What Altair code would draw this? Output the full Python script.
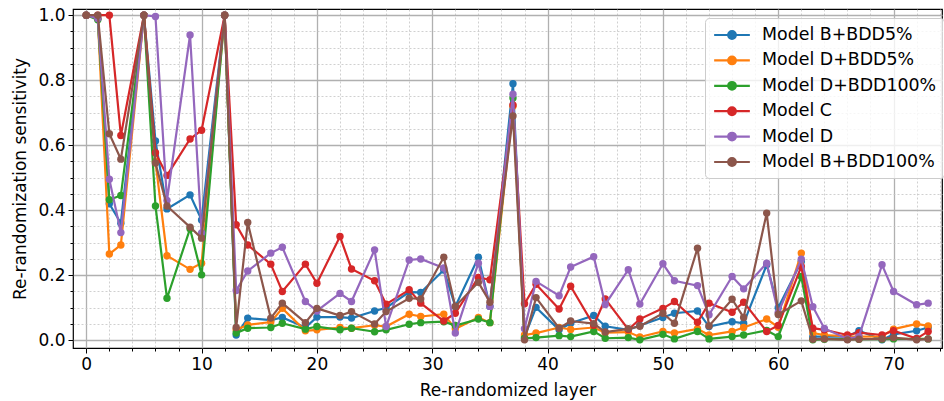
import altair as alt
import pandas as pd

layers = [0, 1, 2, 3, 5, 6, 7, 9, 10, 12,
          13, 14, 16, 17, 19, 20, 22, 23, 25, 26, 28, 29, 31, 32, 34, 35,
          37,
          38, 39, 41, 42, 44, 45, 47, 48, 50, 51, 53, 54, 56, 57, 59, 60,
          62,
          63, 64, 66, 67, 69, 70, 72, 73]

series_names = ["Model B+BDD5%", "Model D+BDD5%", "Model D+BDD100%",
                "Model C", "Model D", "Model B+BDD100%"]
colors = ["#1f77b4", "#ff7f0e", "#2ca02c", "#d62728", "#9467bd", "#8c564b"]

model_b_bdd5 = [1.0, 0.99, 0.42, 0.36, 1.0, 0.613, 0.404, 0.447, 0.37, 1.0,
                0.016, 0.068, 0.062, 0.07, 0.039, 0.071, 0.071, 0.068, 0.09, 0.10, 0.148, 0.147, 0.216, 0.104, 0.255, 0.104,
                0.789,
                0.01, 0.101, 0.032, 0.052, 0.076, 0.043, 0.032, 0.045, 0.07, 0.083, 0.09, 0.042, 0.057, 0.052, 0.232, 0.1,
                0.242,
                0.011, 0.011, 0.011, 0.029, 0.001, 0.018, 0.029, 0.039]

model_d_bdd5 = [1.0, 0.99, 0.265, 0.293, 1.0, 0.55, 0.26, 0.218, 0.237, 1.0,
                0.032, 0.047, 0.056, 0.098, 0.029, 0.032, 0.039, 0.037, 0.046, 0.042, 0.08, 0.073, 0.08, 0.035, 0.07, 0.054,
                0.72,
                0.016, 0.022, 0.039, 0.033, 0.039, 0.023, 0.025, 0.01, 0.027, 0.022, 0.035, 0.016, 0.027, 0.039, 0.065, 0.04,
                0.268,
                0.022, 0.016, 0.012, 0.011, 0.012, 0.034, 0.05, 0.044]

model_d_bdd100 = [1.0, 0.986, 0.432, 0.445, 1.0, 0.413, 0.129, 0.343, 0.201, 1.0,
                  0.022, 0.037, 0.039, 0.052, 0.034, 0.042, 0.032, 0.037, 0.026, 0.032, 0.049, 0.054, 0.057, 0.045, 0.065, 0.054,
                  0.745,
                  0.006, 0.008, 0.014, 0.011, 0.027, 0.006, 0.008, 0.001, 0.018, 0.004, 0.027, 0.004, 0.011, 0.016, 0.03, 0.011,
                  0.196,
                  0.001, 0.003, 0.003, 0.003, 0.003, 0.004, 0.004, 0.004]

model_c = [1.0, 1.0, 1.0, 0.63, 1.0, 0.577, 0.507, 0.619, 0.646, 1.0,
           0.355, 0.293, 0.234, 0.15, 0.234, 0.175, 0.319, 0.219, 0.183, 0.111, 0.155, 0.114, 0.059, 0.083, 0.193, 0.186,
           0.724,
           0.112, 0.172, 0.096, 0.166, 0.046, 0.127, 0.033, 0.065, 0.098, 0.119, 0.055, 0.114, 0.086, 0.117, 0.027, 0.045,
           0.227,
           0.037, 0.032, 0.016, 0.023, 0.016, 0.029, 0.005, 0.027]

model_d = [1.0, 0.99, 0.495, 0.331, 1.0, 0.996, 0.43, 0.939, 0.33, 1.0,
           0.153, 0.213, 0.268, 0.286, 0.119, 0.09, 0.144, 0.119, 0.278, 0.042, 0.247, 0.25, 0.222, 0.022, 0.237, 0.104,
           0.757,
           0.035, 0.181, 0.137, 0.225, 0.257, 0.11, 0.217, 0.111, 0.235, 0.183, 0.168, 0.078, 0.196, 0.158, 0.237, 0.085,
           0.249,
           0.103, 0.036, 0.004, 0.011, 0.232, 0.15, 0.109, 0.114]

model_b_bdd100 = [1.0, 1.0, 0.635, 0.557, 1.0, 0.545, 0.413, 0.348, 0.314, 1.0,
                  0.039, 0.362, 0.068, 0.114, 0.054, 0.098, 0.076, 0.088, 0.05, 0.088, 0.129, 0.127, 0.255, 0.104, 0.178, 0.117,
                  0.69,
                  0.001, 0.131, 0.037, 0.059, 0.051, 0.025, 0.035, 0.043, 0.083, 0.052, 0.283, 0.044, 0.126, 0.07, 0.391, 0.079,
                  0.121,
                  0.003, 0.004, 0.001, 0.003, 0.004, 0.008, 0.001, 0.004]

x_ticks = list(range(0, 75, 2))
y_ticks = [round(i * 0.05, 2) for i in range(21)]

all_values = [model_b_bdd5, model_d_bdd5, model_d_bdd100, model_c, model_d, model_b_bdd100]
rows = []
for k, (name, vals) in enumerate(zip(series_names, all_values)):
    for lay, v in zip(layers, vals):
        rows.append({"layer": lay, "value": v, "model": name, "k": k})
df = pd.DataFrame(rows)

major_x = "datum.value % 10 === 0"
major_y = "abs(datum.value * 5 - round(datum.value * 5)) < 0.001"

x_enc = alt.X(
    "layer:Q",
    scale=alt.Scale(domain=[-1.15, 74.2], nice=False, zero=False),
    axis=alt.Axis(
        values=x_ticks,
        title="Re-randomized layer",
        labelExpr=f"{major_x} ? datum.label : ''",
        gridDash={"condition": {"test": f"!({major_x})", "value": [2, 2]}, "value": []},
        gridColor={"condition": {"test": f"!({major_x})", "value": "#c4c4c4"}, "value": "#b0b0b0"},
        gridWidth={"condition": {"test": f"!({major_x})", "value": 0.8}, "value": 1.3},
        tickSize={"condition": {"test": f"!({major_x})", "value": 3}, "value": 5},
        labelOverlap=False,
        labelFlush=False,
        titlePadding=10,
        labelPadding=3,
    ),
)
y_enc = alt.Y(
    "value:Q",
    scale=alt.Scale(domain=[-0.024, 1.019], nice=False, zero=False),
    axis=alt.Axis(
        values=y_ticks,
        format=".1f",
        title="Re-randomization sensitivity",
        labelExpr=f"{major_y} ? datum.label : ''",
        gridDash={"condition": {"test": f"!({major_y})", "value": [2, 2]}, "value": []},
        gridColor={"condition": {"test": f"!({major_y})", "value": "#c4c4c4"}, "value": "#b0b0b0"},
        gridWidth={"condition": {"test": f"!({major_y})", "value": 0.8}, "value": 1.3},
        tickSize={"condition": {"test": f"!({major_y})", "value": 3}, "value": 5},
        labelOverlap=False,
        labelFlush=False,
        titlePadding=8,
        labelPadding=3,
    ),
)

# wide line-with-dot legend glyph; layout box is sqrt(289)=17 px, drawn ~36 px wide
legend_symbol = "M-2.1,0L2.1,0M0.45,0A0.45,0.45,0,1,1,-0.45,0A0.45,0.45,0,1,1,0.45,0Z"
color_enc = alt.Color(
    "model:N",
    scale=alt.Scale(domain=series_names, range=colors),
    legend=alt.Legend(
        title=None,
        orient="none",
        legendX=632,
        legendY=9,
        symbolType=legend_symbol,
        symbolSize=289,
        symbolStrokeWidth=2.2,
        symbolOffset=10,
        labelFontSize=17.4,
        labelFont="DejaVu Sans",
        labelColor="black",
        rowPadding=6.4,
        labelOffset=20,
        padding=7,
        fillColor="rgba(255,255,255,0.8)",
        strokeColor="#cccccc",
        cornerRadius=4,
        labelLimit=400,
    ),
)

layer_list = []
for name in series_names:
    base = alt.Chart(df).transform_filter(alt.datum.model == name)
    line = base.mark_line(strokeWidth=2.2).encode(x=x_enc, y=y_enc, color=color_enc)
    pts = base.mark_circle(size=55, opacity=1).encode(x=x_enc, y=y_enc, color=color_enc)
    layer_list.extend([line, pts])

chart = alt.layer(*layer_list).properties(
    width=869,
    height=339,
    autosize=alt.AutoSizeParams(type="none"),
    padding={"left": 73, "top": 9, "right": 2, "bottom": 53},
).configure_view(
    stroke="black", strokeWidth=1.2
).configure_axis(
    domain=False,
    labelFont="DejaVu Sans",
    titleFont="DejaVu Sans",
    labelFontSize=17,
    titleFontSize=17,
    titleFontWeight="normal",
    labelColor="black",
    titleColor="black",
    tickColor="black",
    tickWidth=1,
)

chart.save("out.html", embed_options={"renderer": "svg", "actions": False})
